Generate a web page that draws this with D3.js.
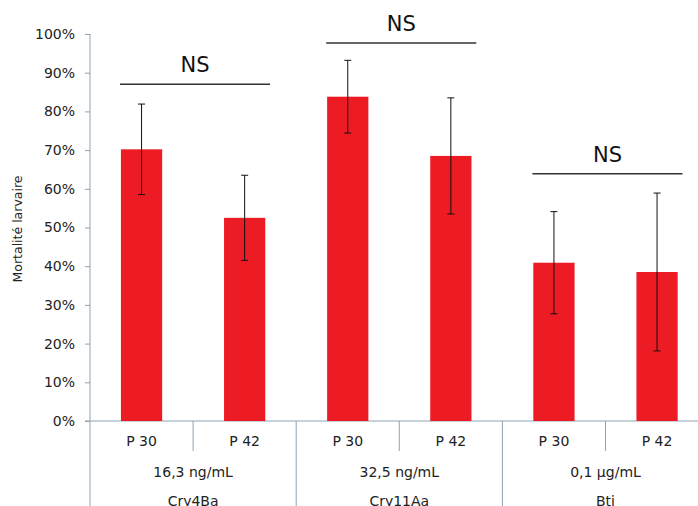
<!DOCTYPE html>
<html><head><meta charset="utf-8">
<script src="https://cdn.jsdelivr.net/npm/d3@7"></script>
<style>body{margin:0;background:#fff}svg{display:block}text{font-family:"DejaVu Sans",Verdana,sans-serif}</style>
</head><body><svg id="c" width="698" height="506"></svg>
<script>
const bars = ["P 30","P 42","P 30","P 42","P 30","P 42"];
const concentrations = ["16,3 ng/mL","32,5 ng/mL","0,1 µg/mL"];
const toxins = ["Cry4Ba","Cry11Aa","Bti"];
const values = [70.2, 52.5, 83.8, 68.5, 40.9, 38.5];
const errors = [11.7, 11.0, 9.4, 15.0, 13.2, 20.4];
const nsLevels = [87, 97.7, 63.9];
const yTicks = [0,10,20,30,40,50,60,70,80,90,100];

const svg = d3.select("#c");
const axisColor = "#8fa3b5";
const x0 = 90, slot = 103.1;
const x = d3.scaleBand().domain(d3.range(bars.length)).range([x0, x0 + slot*bars.length]).paddingInner(0).paddingOuter(0);
const y = d3.scaleLinear().domain([0,100]).range([421, 34]);
const barW = slot*0.4;

// y axis
const ya = svg.append("g").attr("transform",`translate(${x0},0)`)
  .call(d3.axisLeft(y).tickValues(yTicks).tickFormat(d=>d+"%").tickSize(5).tickPadding(10));
ya.select(".domain").remove();
ya.selectAll(".tick line").attr("stroke",axisColor);
ya.selectAll(".tick text").attr("font-size",14).attr("fill","#222");
svg.append("line").attr("x1",x0).attr("x2",x0).attr("y1",y(100)).attr("y2",506).attr("stroke",axisColor);

// x axis baseline
svg.append("line").attr("x1",x0-5).attr("x2",x0+slot*6).attr("y1",y(0)).attr("y2",y(0)).attr("stroke",axisColor);

// dividers
d3.range(1,6).forEach(i=>{
  const xx = x(i);
  svg.append("line").attr("x1",xx).attr("x2",xx).attr("y1",y(0)).attr("y2", i%2===0 ? 506 : 451).attr("stroke",axisColor);
});

// bars
svg.selectAll("rect.bar").data(values).join("rect").attr("class","bar")
  .attr("x",(d,i)=>x(i)+x.bandwidth()/2-barW/2).attr("width",barW)
  .attr("y",d=>y(d)).attr("height",d=>y(0)-y(d)).attr("fill","#ed1c24");

// error bars
values.forEach((v,i)=>{
  const cx = x(i)+x.bandwidth()/2;
  const g = svg.append("g").attr("stroke","#111").attr("stroke-width",1);
  g.append("line").attr("x1",cx).attr("x2",cx).attr("y1",y(v+errors[i])).attr("y2",y(v-errors[i]));
  [v+errors[i], v-errors[i]].forEach(e=>g.append("line").attr("x1",cx-3.5).attr("x2",cx+3.5).attr("y1",y(e)).attr("y2",y(e)));
});

// x labels
bars.forEach((b,i)=>{
  svg.append("text").attr("x",x(i)+x.bandwidth()/2).attr("y",446).attr("text-anchor","middle").attr("font-size",14).attr("fill","#222").text(b);
});
concentrations.forEach((c,j)=>{
  const cx = x(2*j+1);
  svg.append("text").attr("x",cx).attr("y",477).attr("text-anchor","middle").attr("font-size",14).attr("fill","#222").text(c);
  svg.append("text").attr("x",cx).attr("y",506).attr("text-anchor","middle").attr("font-size",14).attr("fill","#222").text(toxins[j]);
});

// NS annotations
nsLevels.forEach((lv,j)=>{
  const xa = x(2*j)+x.bandwidth()/2-barW/2, xb = x(2*j+1)+x.bandwidth()/2+barW/2 + 67;
  const x1 = x(2*j)+30, x2 = x(2*j+1)+77;
  svg.append("line").attr("x1",x1).attr("x2",x2).attr("y1",y(lv)).attr("y2",y(lv)).attr("stroke","#333").attr("stroke-width",1.5);
  svg.append("text").attr("x",(x1+x2)/2).attr("y",y(lv)-12).attr("text-anchor","middle").attr("font-size",21).attr("fill","#111").text("NS");
});

// y title
svg.append("text").attr("transform","translate(22,229) rotate(-90)").attr("text-anchor","middle").attr("font-size",12.5).attr("fill","#222").text("Mortalité larvaire");
</script></body></html>
